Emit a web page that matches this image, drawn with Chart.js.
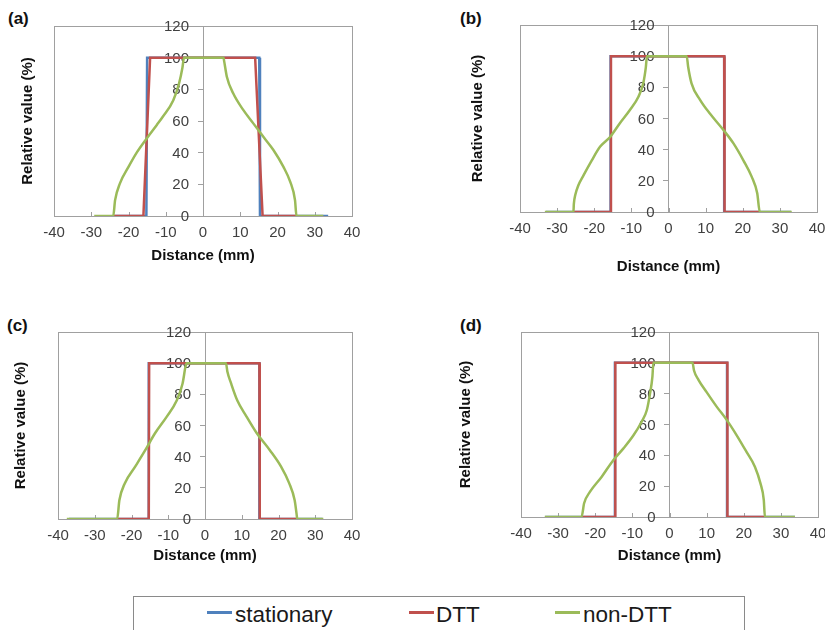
<!DOCTYPE html>
<html lang="en">
<head>
<meta charset="UTF-8">
<title>Relative value profiles</title>
<script src="https://cdn.jsdelivr.net/npm/chart.js@4.4.0/dist/chart.umd.min.js"></script>
<style>
  body { margin: 0; width: 825px; height: 630px; overflow: hidden; background: #fff; font-family: "Liberation Sans", Arial, sans-serif; }
  canvas { position: absolute; }
  .tag { position: absolute; font-weight: bold; font-size: 17px; line-height: 20px; color: #111; }
  #legend { position: absolute; left: 133px; top: 596px; width: 610px; height: 50px; border: 1.5px solid #8a8a8a; }
  .sw { position: absolute; top: 14px; width: 25px; height: 2.5px; }
  .lt { position: absolute; top: 5px; font-size: 22.5px; line-height: 26px; color: #1a1a1a; }
</style>
</head>
<body>

<div class="tag" style="left:8px; top:9px">(a)</div>
<div class="tag" style="left:460px; top:9px">(b)</div>
<div class="tag" style="left:7px; top:316px">(c)</div>
<div class="tag" style="left:460px; top:316px">(d)</div>

<div id="legend">
  <div class="sw" style="left:73px; background:#4f81bd"></div><span class="lt" style="left:101px">stationary</span>
  <div class="sw" style="left:275px; background:#c0504d"></div><span class="lt" style="left:302px">DTT</span>
  <div class="sw" style="left:421px; background:#9bbb59"></div><span class="lt" style="left:449px">non-DTT</span>
</div>

<script>
// step profiles: 0 -> 100 -> 0
const stepY = [0, 0, 100, 100, 0, 0];

// (a)
const aStatX = [-24, -15.2, -15, 15.1, 15.3, 33.6];
const aDttX  = [-24, -16, -14.2, 14, 16, 25];
const aNonX  = [-29.2, -24.1, -23.6, -22.3, -20, -17.8, -15.1, -12.4, -10.8, -8, -6.4, -5.5, -5.1, 5.5, 5.7, 6.4, 8.1, 10.8, 13.5, 16.2, 18.9, 21.6, 23.4, 24.7, 25.1, 32.3];
const aNonY  = [0, 0, 10, 20.6, 31, 40, 49, 57.5, 62.7, 73, 84, 94, 100, 100, 97.5, 88, 77.5, 67, 58.5, 50, 41.7, 31, 21.7, 10, 0, 0];

// (b)
const bStatX = [-33, -15.6, -15.6, 15, 15, 33];
const bDttX  = [-25.6, -15.6, -15.5, 15, 15.1, 24.6];
const bNonX  = [-33.3, -25.6, -25.5, -25.1, -24.3, -22.9, -20.7, -18.4, -15.8, -13.1, -10.4, -8.1, -6.8, -6.1, -5.8, 4.9, 5.3, 6.2, 8.5, 11.2, 14.8, 17.5, 20.2, 22.4, 23.9, 24.6, 33.2];
const bNonY  = [0, 0, 5, 11, 17, 23.5, 33, 42, 48, 57, 65.5, 74, 82.6, 93, 100, 100, 93, 82.6, 72, 63, 52.6, 44, 33, 22.7, 12, 0, 0];

// (c)
const cStatX = [-37, -15.3, -15.3, 14.8, 14.8, 32];
const cDttX  = [-23.9, -15.3, -15.2, 14.8, 14.9, 24.9];
const cNonX  = [-37.6, -23.9, -23.3, -21.8, -19, -16.3, -13.6, -10.4, -7.7, -6.1, -5.3, -5, 5.7, 6.1, 7.1, 8.8, 11.3, 14.1, 17.7, 20.7, 22.9, 24.4, 24.9, 25.1, 32.2];
const cNonY  = [0, 0, 12, 23, 33.6, 44, 55, 65.7, 76, 87, 97.8, 100, 100, 94.5, 87, 76, 65.7, 55, 44, 33.6, 23, 12, 3.6, 0, 0];

// (d)
const dStatX = [-33.5, -14.7, -14.7, 15.5, 15.5, 33.8];
const dDttX  = [-23.7, -14.6, -14.6, 15.6, 15.6, 25.7];
const dNonX  = [-33.6, -23.7, -23, -21.4, -18.3, -15.1, -12.4, -9.7, -7.5, -6.1, -5.25, -4.6, -4.35, 6.2, 6.6, 7.8, 10, 12.7, 15.4, 18.1, 20.7, 23, 24.5, 25.4, 25.7, 33.8];
const dNonY  = [0, 0, 8.9, 16.4, 26, 37, 44.5, 53, 61.8, 69.4, 80, 91, 100, 100, 95, 89, 81, 71.6, 63, 53, 42.4, 32.6, 21.8, 11, 0, 0];

const xTicks = { min: -40, max: 40, step: 10 };
const yTicks = { min: 0, max: 120, step: 20 };

const fontFamily = "'Liberation Sans', Arial, sans-serif";
Chart.defaults.font.family = fontFamily;

const axisGray = '#a0a0a0';
const labelColor = '#404040';

// plot frame, inside tick marks on the x axis, and the value labels
// beside the crossing y axis (Chart.js ignores tick padding there)
const framePlugin = {
  id: 'frame',
  beforeDatasetsDraw(chart) {
    const { ctx, chartArea: a, scales: { x, y } } = chart;
    ctx.save();
    ctx.strokeStyle = axisGray;
    ctx.lineWidth = 1;
    ctx.strokeRect(Math.round(a.left) + 0.5, Math.round(a.top) + 0.5, Math.round(a.width), Math.round(a.height));
    ctx.beginPath();
    x.ticks.forEach(t => {
      const px = Math.round(x.getPixelForValue(t.value)) + 0.5;
      ctx.moveTo(px, a.bottom);
      ctx.lineTo(px, a.bottom - 4);
    });
    ctx.stroke();

    const axisX = x.getPixelForValue(0);
    ctx.font = '15px ' + fontFamily;
    ctx.fillStyle = labelColor;
    ctx.textAlign = 'right';
    ctx.textBaseline = 'middle';
    y.ticks.forEach(t => {
      ctx.fillText(String(t.value), axisX - 14, y.getPixelForValue(t.value) + 1);
    });
    ctx.restore();
  }
};

function pts(xs, ys) {
  return xs.map((v, i) => ({ x: v, y: ys[i] }));
}

function makePanel(p) {
  const [ox, oy, w, h] = p.canvas;
  const [L, T, R, B] = p.area;
  const cv = document.createElement('canvas');
  cv.width = w; cv.height = h;
  cv.style.left = ox + 'px'; cv.style.top = oy + 'px';
  document.body.appendChild(cv);

  new Chart(cv, {
    type: 'line',
    data: {
      datasets: [
        { label: 'stationary', data: pts(p.stat, stepY), borderColor: '#4f81bd', order: 3, tension: 0 },
        { label: 'DTT', data: pts(p.dtt, stepY), borderColor: '#c0504d', order: 2, tension: 0 },
        { label: 'non-DTT', data: pts(p.nonX, p.nonY), borderColor: '#9bbb59', order: 1, cubicInterpolationMode: 'monotone' }
      ]
    },
    options: {
      responsive: false,
      animation: false,
      layout: { padding: { left: 0, top: T - oy, right: w - (R - ox), bottom: 0 } },
      plugins: { legend: { display: false }, tooltip: { enabled: false } },
      elements: { point: { radius: 0 }, line: { borderWidth: 2.5, fill: false } },
      scales: {
        x: {
          type: 'linear', position: 'bottom',
          min: xTicks.min, max: xTicks.max,
          ticks: { stepSize: xTicks.step, padding: 8, color: labelColor, font: { size: 15 } },
          grid: { display: false, drawTicks: false },
          border: { display: false },
          title: {
            display: true, text: 'Distance (mm)', color: '#111',
            font: { size: 15, weight: 'bold' },
            padding: { top: 0, bottom: (oy + h) - p.xTitleY - 9 }
          },
          afterFit: s => { s.height = (oy + h) - B; s.paddingLeft = 0; s.paddingRight = 0; }
        },
        yl: {
          axis: 'y', type: 'linear', position: 'left',
          min: yTicks.min, max: yTicks.max,
          ticks: { display: false },
          grid: { display: false },
          border: { display: false },
          title: {
            display: true, text: 'Relative value (%)', color: '#111',
            font: { size: 15, weight: 'bold' },
            padding: { top: p.yTitleX - ox - 9, bottom: 0 }
          },
          afterFit: s => { s.width = L - ox; }
        },
        // value axis crossing at x = 0 (labels drawn by framePlugin)
        y: {
          type: 'linear', position: { x: 0 },
          min: yTicks.min, max: yTicks.max,
          ticks: { stepSize: yTicks.step, display: false },
          grid: { drawOnChartArea: false, tickLength: 5, color: axisGray },
          border: { color: axisGray }
        }
      }
    },
    plugins: [framePlugin]
  });
}

makePanel({ canvas: [0, 0, 412, 290],   area: [54, 26, 352, 216],  yTitleX: 28,  xTitleY: 256, stat: aStatX, dtt: aDttX, nonX: aNonX, nonY: aNonY });
makePanel({ canvas: [412, 0, 413, 290], area: [520, 25, 817, 212], yTitleX: 478, xTitleY: 267, stat: bStatX, dtt: bDttX, nonX: bNonX, nonY: bNonY });
makePanel({ canvas: [0, 300, 412, 285], area: [58, 332, 352, 519], yTitleX: 21,  xTitleY: 556, stat: cStatX, dtt: cDttX, nonX: cNonX, nonY: cNonY });
makePanel({ canvas: [412, 300, 413, 285], area: [521, 332, 818, 517], yTitleX: 466, xTitleY: 556, stat: dStatX, dtt: dDttX, nonX: dNonX, nonY: dNonY });
</script>
</body>
</html>
